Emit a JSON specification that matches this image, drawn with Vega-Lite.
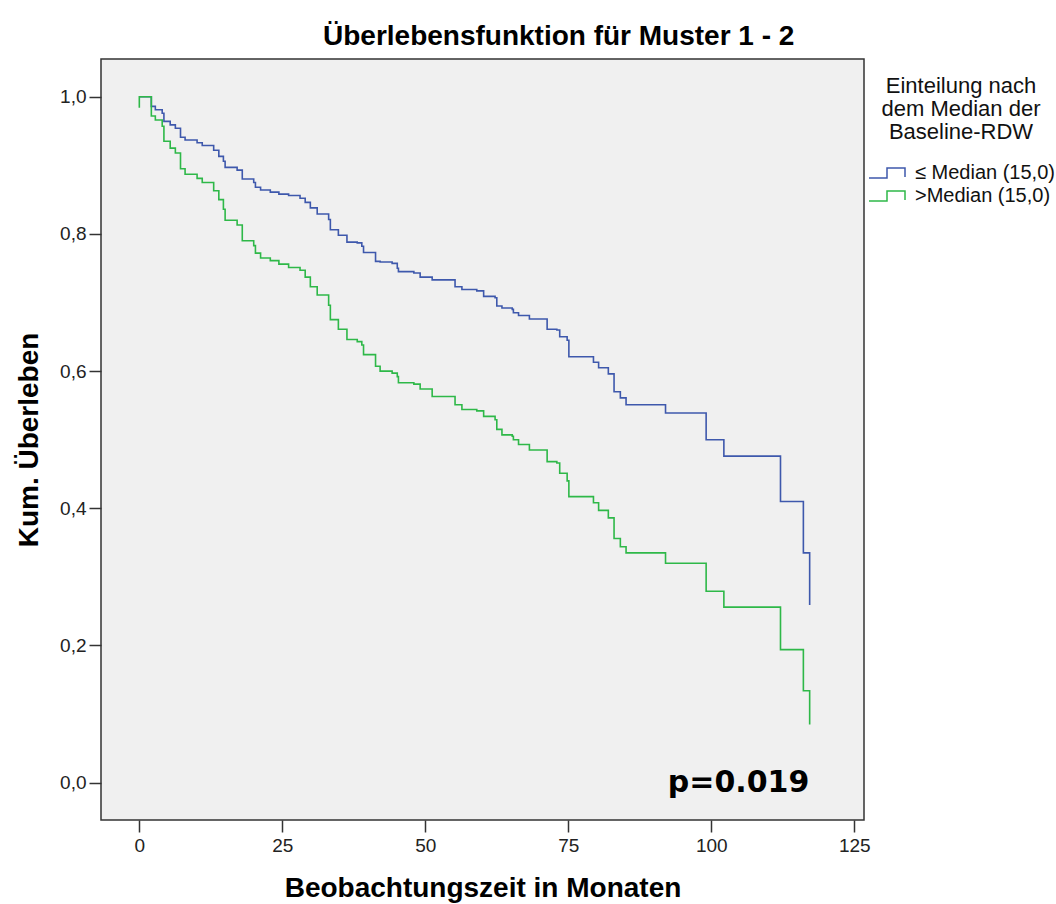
{
  "$schema": "https://vega.github.io/schema/vega-lite/v6.json",
  "autosize": "none",
  "padding": {"left": 101, "top": 59, "right": 192, "bottom": 84},
  "width": 763,
  "height": 761,
  "background": "white",
  "title": {
    "text": "Überlebensfunktion für Muster 1 - 2",
    "anchor": "start",
    "frame": "group",
    "dx": 222,
    "dy": 28,
    "offset": 14,
    "baseline": "alphabetic",
    "font": "Liberation Sans",
    "fontSize": 28,
    "fontWeight": "bold",
    "color": "#000000"
  },
  "datasets": {
    "survival": [
      {"g": "≤ Median (15,0)", "n": 0, "t": 0, "s": 1.0},
      {"g": "≤ Median (15,0)", "n": 1, "t": 2.1, "s": 0.986},
      {"g": "≤ Median (15,0)", "n": 2, "t": 2.8, "s": 0.981},
      {"g": "≤ Median (15,0)", "n": 3, "t": 4.0, "s": 0.976},
      {"g": "≤ Median (15,0)", "n": 4, "t": 4.3, "s": 0.964},
      {"g": "≤ Median (15,0)", "n": 5, "t": 5.4, "s": 0.959},
      {"g": "≤ Median (15,0)", "n": 6, "t": 6.3, "s": 0.954},
      {"g": "≤ Median (15,0)", "n": 7, "t": 7.2, "s": 0.941},
      {"g": "≤ Median (15,0)", "n": 8, "t": 8.0, "s": 0.937},
      {"g": "≤ Median (15,0)", "n": 9, "t": 10.1, "s": 0.933},
      {"g": "≤ Median (15,0)", "n": 10, "t": 11.0, "s": 0.929},
      {"g": "≤ Median (15,0)", "n": 11, "t": 13.0, "s": 0.922},
      {"g": "≤ Median (15,0)", "n": 12, "t": 13.9, "s": 0.913},
      {"g": "≤ Median (15,0)", "n": 13, "t": 14.7, "s": 0.906},
      {"g": "≤ Median (15,0)", "n": 14, "t": 15.0, "s": 0.897},
      {"g": "≤ Median (15,0)", "n": 15, "t": 17.1, "s": 0.893},
      {"g": "≤ Median (15,0)", "n": 16, "t": 18.0, "s": 0.880},
      {"g": "≤ Median (15,0)", "n": 17, "t": 20.0, "s": 0.875},
      {"g": "≤ Median (15,0)", "n": 18, "t": 20.3, "s": 0.868},
      {"g": "≤ Median (15,0)", "n": 19, "t": 21.2, "s": 0.864},
      {"g": "≤ Median (15,0)", "n": 20, "t": 22.9, "s": 0.861},
      {"g": "≤ Median (15,0)", "n": 21, "t": 24.4, "s": 0.858},
      {"g": "≤ Median (15,0)", "n": 22, "t": 26.1, "s": 0.856},
      {"g": "≤ Median (15,0)", "n": 23, "t": 28.1, "s": 0.852},
      {"g": "≤ Median (15,0)", "n": 24, "t": 29.0, "s": 0.846},
      {"g": "≤ Median (15,0)", "n": 25, "t": 29.9, "s": 0.838},
      {"g": "≤ Median (15,0)", "n": 26, "t": 31.1, "s": 0.829},
      {"g": "≤ Median (15,0)", "n": 27, "t": 33.1, "s": 0.821},
      {"g": "≤ Median (15,0)", "n": 28, "t": 33.4, "s": 0.806},
      {"g": "≤ Median (15,0)", "n": 29, "t": 34.8, "s": 0.798},
      {"g": "≤ Median (15,0)", "n": 30, "t": 36.3, "s": 0.788},
      {"g": "≤ Median (15,0)", "n": 31, "t": 38.1, "s": 0.787},
      {"g": "≤ Median (15,0)", "n": 32, "t": 38.9, "s": 0.782},
      {"g": "≤ Median (15,0)", "n": 33, "t": 39.2, "s": 0.773},
      {"g": "≤ Median (15,0)", "n": 34, "t": 41.3, "s": 0.760},
      {"g": "≤ Median (15,0)", "n": 35, "t": 42.1, "s": 0.759},
      {"g": "≤ Median (15,0)", "n": 36, "t": 44.2, "s": 0.757},
      {"g": "≤ Median (15,0)", "n": 37, "t": 45.1, "s": 0.750},
      {"g": "≤ Median (15,0)", "n": 38, "t": 45.3, "s": 0.745},
      {"g": "≤ Median (15,0)", "n": 39, "t": 48.0, "s": 0.743},
      {"g": "≤ Median (15,0)", "n": 40, "t": 49.1, "s": 0.737},
      {"g": "≤ Median (15,0)", "n": 41, "t": 51.2, "s": 0.733},
      {"g": "≤ Median (15,0)", "n": 42, "t": 55.2, "s": 0.723},
      {"g": "≤ Median (15,0)", "n": 43, "t": 56.4, "s": 0.719},
      {"g": "≤ Median (15,0)", "n": 44, "t": 59.0, "s": 0.717},
      {"g": "≤ Median (15,0)", "n": 45, "t": 60.2, "s": 0.709},
      {"g": "≤ Median (15,0)", "n": 46, "t": 62.2, "s": 0.707},
      {"g": "≤ Median (15,0)", "n": 47, "t": 62.5, "s": 0.695},
      {"g": "≤ Median (15,0)", "n": 48, "t": 63.4, "s": 0.692},
      {"g": "≤ Median (15,0)", "n": 49, "t": 65.2, "s": 0.690},
      {"g": "≤ Median (15,0)", "n": 50, "t": 65.4, "s": 0.685},
      {"g": "≤ Median (15,0)", "n": 51, "t": 66.3, "s": 0.681},
      {"g": "≤ Median (15,0)", "n": 52, "t": 68.2, "s": 0.676},
      {"g": "≤ Median (15,0)", "n": 53, "t": 71.3, "s": 0.661},
      {"g": "≤ Median (15,0)", "n": 54, "t": 73.0, "s": 0.660},
      {"g": "≤ Median (15,0)", "n": 55, "t": 73.5, "s": 0.650},
      {"g": "≤ Median (15,0)", "n": 56, "t": 74.8, "s": 0.645},
      {"g": "≤ Median (15,0)", "n": 57, "t": 75.1, "s": 0.621},
      {"g": "≤ Median (15,0)", "n": 58, "t": 79.4, "s": 0.613},
      {"g": "≤ Median (15,0)", "n": 59, "t": 80.3, "s": 0.605},
      {"g": "≤ Median (15,0)", "n": 60, "t": 82.0, "s": 0.596},
      {"g": "≤ Median (15,0)", "n": 61, "t": 83.0, "s": 0.570},
      {"g": "≤ Median (15,0)", "n": 62, "t": 84.1, "s": 0.561},
      {"g": "≤ Median (15,0)", "n": 63, "t": 85.1, "s": 0.551},
      {"g": "≤ Median (15,0)", "n": 64, "t": 92.0, "s": 0.539},
      {"g": "≤ Median (15,0)", "n": 65, "t": 99.1, "s": 0.500},
      {"g": "≤ Median (15,0)", "n": 66, "t": 102.2, "s": 0.476},
      {"g": "≤ Median (15,0)", "n": 67, "t": 112.1, "s": 0.410},
      {"g": "≤ Median (15,0)", "n": 68, "t": 116.1, "s": 0.335},
      {"g": "≤ Median (15,0)", "n": 69, "t": 117.2, "s": 0.259},

      {"g": ">Median (15,0)", "n": 0, "t": 0, "s": 0.984},
      {"g": ">Median (15,0)", "n": 1, "t": 0, "s": 1.0},
      {"g": ">Median (15,0)", "n": 2, "t": 2.1, "s": 0.972},
      {"g": ">Median (15,0)", "n": 3, "t": 2.8, "s": 0.966},
      {"g": ">Median (15,0)", "n": 4, "t": 4.0, "s": 0.957},
      {"g": ">Median (15,0)", "n": 5, "t": 4.3, "s": 0.935},
      {"g": ">Median (15,0)", "n": 6, "t": 5.4, "s": 0.925},
      {"g": ">Median (15,0)", "n": 7, "t": 6.3, "s": 0.918},
      {"g": ">Median (15,0)", "n": 8, "t": 7.2, "s": 0.895},
      {"g": ">Median (15,0)", "n": 9, "t": 8.0, "s": 0.887},
      {"g": ">Median (15,0)", "n": 10, "t": 10.1, "s": 0.881},
      {"g": ">Median (15,0)", "n": 11, "t": 11.0, "s": 0.875},
      {"g": ">Median (15,0)", "n": 12, "t": 13.0, "s": 0.863},
      {"g": ">Median (15,0)", "n": 13, "t": 13.9, "s": 0.850},
      {"g": ">Median (15,0)", "n": 14, "t": 14.7, "s": 0.836},
      {"g": ">Median (15,0)", "n": 15, "t": 15.0, "s": 0.820},
      {"g": ">Median (15,0)", "n": 16, "t": 17.1, "s": 0.813},
      {"g": ">Median (15,0)", "n": 17, "t": 18.0, "s": 0.790},
      {"g": ">Median (15,0)", "n": 18, "t": 20.0, "s": 0.783},
      {"g": ">Median (15,0)", "n": 19, "t": 20.3, "s": 0.772},
      {"g": ">Median (15,0)", "n": 20, "t": 21.2, "s": 0.765},
      {"g": ">Median (15,0)", "n": 21, "t": 22.9, "s": 0.761},
      {"g": ">Median (15,0)", "n": 22, "t": 24.4, "s": 0.756},
      {"g": ">Median (15,0)", "n": 23, "t": 26.1, "s": 0.751},
      {"g": ">Median (15,0)", "n": 24, "t": 28.1, "s": 0.747},
      {"g": ">Median (15,0)", "n": 25, "t": 29.0, "s": 0.737},
      {"g": ">Median (15,0)", "n": 26, "t": 29.9, "s": 0.723},
      {"g": ">Median (15,0)", "n": 27, "t": 31.1, "s": 0.711},
      {"g": ">Median (15,0)", "n": 28, "t": 33.1, "s": 0.696},
      {"g": ">Median (15,0)", "n": 29, "t": 33.4, "s": 0.675},
      {"g": ">Median (15,0)", "n": 30, "t": 34.8, "s": 0.661},
      {"g": ">Median (15,0)", "n": 31, "t": 36.3, "s": 0.646},
      {"g": ">Median (15,0)", "n": 32, "t": 38.1, "s": 0.643},
      {"g": ">Median (15,0)", "n": 33, "t": 38.9, "s": 0.638},
      {"g": ">Median (15,0)", "n": 34, "t": 39.2, "s": 0.624},
      {"g": ">Median (15,0)", "n": 35, "t": 41.3, "s": 0.607},
      {"g": ">Median (15,0)", "n": 36, "t": 42.1, "s": 0.600},
      {"g": ">Median (15,0)", "n": 37, "t": 44.2, "s": 0.597},
      {"g": ">Median (15,0)", "n": 38, "t": 45.1, "s": 0.592},
      {"g": ">Median (15,0)", "n": 39, "t": 45.3, "s": 0.583},
      {"g": ">Median (15,0)", "n": 40, "t": 48.0, "s": 0.581},
      {"g": ">Median (15,0)", "n": 41, "t": 49.1, "s": 0.574},
      {"g": ">Median (15,0)", "n": 42, "t": 51.2, "s": 0.563},
      {"g": ">Median (15,0)", "n": 43, "t": 55.2, "s": 0.551},
      {"g": ">Median (15,0)", "n": 44, "t": 56.4, "s": 0.544},
      {"g": ">Median (15,0)", "n": 45, "t": 59.0, "s": 0.542},
      {"g": ">Median (15,0)", "n": 46, "t": 60.2, "s": 0.534},
      {"g": ">Median (15,0)", "n": 47, "t": 62.2, "s": 0.529},
      {"g": ">Median (15,0)", "n": 48, "t": 62.5, "s": 0.515},
      {"g": ">Median (15,0)", "n": 49, "t": 63.4, "s": 0.507},
      {"g": ">Median (15,0)", "n": 50, "t": 65.2, "s": 0.505},
      {"g": ">Median (15,0)", "n": 51, "t": 65.4, "s": 0.500},
      {"g": ">Median (15,0)", "n": 52, "t": 66.3, "s": 0.493},
      {"g": ">Median (15,0)", "n": 53, "t": 68.2, "s": 0.485},
      {"g": ">Median (15,0)", "n": 54, "t": 71.3, "s": 0.468},
      {"g": ">Median (15,0)", "n": 55, "t": 73.0, "s": 0.466},
      {"g": ">Median (15,0)", "n": 56, "t": 73.5, "s": 0.451},
      {"g": ">Median (15,0)", "n": 57, "t": 74.8, "s": 0.440},
      {"g": ">Median (15,0)", "n": 58, "t": 75.1, "s": 0.417},
      {"g": ">Median (15,0)", "n": 59, "t": 79.4, "s": 0.408},
      {"g": ">Median (15,0)", "n": 60, "t": 80.3, "s": 0.397},
      {"g": ">Median (15,0)", "n": 61, "t": 82.0, "s": 0.386},
      {"g": ">Median (15,0)", "n": 62, "t": 83.0, "s": 0.356},
      {"g": ">Median (15,0)", "n": 63, "t": 84.1, "s": 0.344},
      {"g": ">Median (15,0)", "n": 64, "t": 85.1, "s": 0.335},
      {"g": ">Median (15,0)", "n": 65, "t": 92.0, "s": 0.320},
      {"g": ">Median (15,0)", "n": 66, "t": 99.1, "s": 0.279},
      {"g": ">Median (15,0)", "n": 67, "t": 102.2, "s": 0.256},
      {"g": ">Median (15,0)", "n": 68, "t": 112.1, "s": 0.194},
      {"g": ">Median (15,0)", "n": 69, "t": 116.1, "s": 0.134},
      {"g": ">Median (15,0)", "n": 70, "t": 117.2, "s": 0.085}
    ],
    "test": [
      {"label": "p=0.019"}
    ]
  },
  "layer": [
    {
      "data": {"name": "survival"},
      "mark": {"type": "line", "interpolate": "step-after", "strokeWidth": 1.6, "clip": true},
      "encoding": {
        "x": {
          "field": "t",
          "type": "quantitative",
          "scale": {"domain": [-6.7, 126.7], "nice": false, "zero": false},
          "axis": {
            "title": "Beobachtungszeit in Monaten",
            "values": [0, 25, 50, 75, 100, 125],
            "labelPadding": 4,
            "titlePadding": 19
          }
        },
        "y": {
          "field": "s",
          "type": "quantitative",
          "scale": {"domain": [-0.0544, 1.055], "nice": false, "zero": false},
          "axis": {
            "title": "Kum. Überleben",
            "values": [0, 0.2, 0.4, 0.6, 0.8, 1.0],
            "labelExpr": "replace(format(datum.value, '.1f'), '.', ',')",
            "labelPadding": 3,
            "titlePadding": 16
          }
        },
        "color": {
          "field": "g",
          "type": "nominal",
          "scale": {
            "domain": ["≤ Median (15,0)", ">Median (15,0)"],
            "range": ["#3e58ac", "#2eb848"]
          },
          "legend": {
            "title": ["Einteilung nach", "dem Median der", "Baseline-RDW"],
            "orient": "none",
            "legendX": 767,
            "legendY": 17
          }
        },
        "order": {"field": "n", "type": "quantitative"}
      }
    },
    {
      "data": {"name": "test"},
      "mark": {
        "type": "text",
        "align": "left",
        "baseline": "alphabetic",
        "font": "DejaVu Sans",
        "fontSize": 30,
        "fontWeight": "bold",
        "color": "#000000"
      },
      "encoding": {
        "x": {"datum": 92.4},
        "y": {"datum": -0.0136},
        "text": {"field": "label"}
      }
    }
  ],
  "config": {
    "view": {"fill": "#f0f0f0", "stroke": "#333333", "strokeWidth": 1.5},
    "axis": {
      "domain": false,
      "grid": false,
      "ticks": true,
      "tickSize": 12,
      "tickWidth": 1.5,
      "tickColor": "#333333",
      "labelFont": "Liberation Sans",
      "labelFontSize": 19,
      "labelColor": "#222222",
      "titleFont": "Liberation Sans",
      "titleFontSize": 28,
      "titleFontWeight": "bold",
      "titleColor": "#000000"
    },
    "legend": {
      "titleFont": "Liberation Sans",
      "titleFontSize": 22,
      "titleFontWeight": "normal",
      "titleColor": "#111111",
      "titleAlign": "center",
      "titleAnchor": "middle",
      "titleLineHeight": 23,
      "titlePadding": 18,
      "labelFont": "Liberation Sans",
      "labelFontSize": 20,
      "labelColor": "#111111",
      "labelOffset": 25,
      "rowPadding": 2,
      "symbolType": "M-1,0.5 L0.8,0.5 L0.8,-0.5 L2.6,-0.5 L2.6,0.4",
      "symbolSize": 400,
      "symbolStrokeWidth": 1.5,
      "symbolFillColor": "transparent"
    }
  }
}
